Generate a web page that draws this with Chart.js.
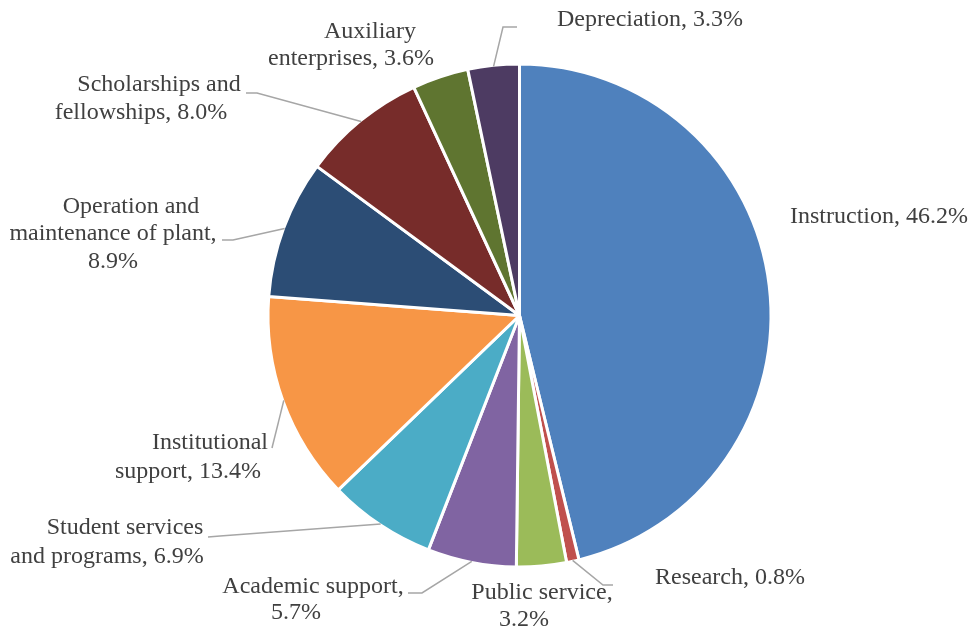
<!DOCTYPE html>
<html>
<head>
<meta charset="utf-8">
<script src="https://cdn.jsdelivr.net/npm/chart.js@4"></script>
<style>
  html, body { margin: 0; padding: 0; background: #fff; }
  #wrap { width: 970px; height: 630px; }
</style>
</head>
<body>
<div id="wrap"><canvas id="pie" width="970" height="630"></canvas></div>
<script>
const categories = ['Instruction', 'Research', 'Public service', 'Academic support',
  'Student services and programs', 'Institutional support',
  'Operation and maintenance of plant', 'Scholarships and fellowships',
  'Auxiliary enterprises', 'Depreciation'];
const shares = [46.2, 0.8, 3.2, 5.7, 6.9, 13.4, 8.9, 8.0, 3.6, 3.3];
const sliceColors = ['#4F81BD', '#C0504D', '#9BBB59', '#8064A2', '#4BACC6',
  '#F79646', '#2C4D75', '#772C2A', '#5F7530', '#4D3B62'];

// where each label sits: word index where a new line starts, line positions, leader elbow/end
const labelLayout = [
  { breaks: [], pos: [[790, 217, 'left']], leader: null },
  { breaks: [], pos: [[655, 578, 'left']], leader: [[603, 585], [613, 585]] },
  { breaks: [2], pos: [[542, 593], [524, 620]], leader: null },
  { breaks: [2], pos: [[313, 587], [296, 613]], leader: [[422, 593], [408, 593]] },
  { breaks: [2], pos: [[125, 528], [107, 557]], leader: [[220, 536], [208, 537]] },
  { breaks: [1], pos: [[210, 443], [188, 472]], leader: [[272, 448], [272, 448]] },
  { breaks: [2, 5], pos: [[131, 207], [113, 234], [113, 262]], leader: [[233, 240], [222, 240]] },
  { breaks: [2], pos: [[159, 85], [141, 113]], leader: [[257, 93], [246, 93]] },
  { breaks: [1], pos: [[370, 32], [351, 59]], leader: null },
  { breaks: [], pos: [[557, 20, 'left']], leader: [[503, 27], [517, 27]] }
];

function splitLabel(text, breaks) {
  const words = text.split(' ');
  const lines = [];
  let start = 0;
  breaks.concat([words.length]).forEach(b => {
    lines.push(words.slice(start, b).join(' '));
    start = b;
  });
  return lines;
}

const pieLabels = {
  id: 'pieLabels',
  afterDatasetsDraw(chart) {
    const ctx = chart.ctx;
    const meta = chart.getDatasetMeta(0);
    ctx.save();
    meta.data.forEach((arc, i) => {
      const lay = labelLayout[i];
      const p = arc.getProps(['x', 'y', 'startAngle', 'endAngle', 'outerRadius'], true);
      if (lay.leader) {
        const mid = (p.startAngle + p.endAngle) / 2;
        const r = p.outerRadius - 1;
        ctx.beginPath();
        ctx.moveTo(p.x + Math.cos(mid) * r, p.y + Math.sin(mid) * r);
        lay.leader.forEach(pt => ctx.lineTo(pt[0], pt[1]));
        ctx.strokeStyle = '#A6A6A6';
        ctx.lineWidth = 1.5;
        ctx.stroke();
      }
      const text = categories[i] + ', ' + shares[i].toFixed(1) + '%';
      const lines = splitLabel(text, lay.breaks);
      ctx.fillStyle = '#404040';
      ctx.font = '24px "Liberation Serif", "Times New Roman", serif';
      ctx.textBaseline = 'middle';
      lines.forEach((ln, k) => {
        const pos = lay.pos[k];
        ctx.textAlign = pos[2] || 'center';
        ctx.fillText(ln, pos[0], pos[1]);
      });
    });
    ctx.restore();
  }
};

const cx = 519.5, cy = 315.5, side = 506;
new Chart(document.getElementById('pie'), {
  type: 'pie',
  data: {
    labels: categories,
    datasets: [{
      data: shares,
      backgroundColor: sliceColors,
      borderColor: '#ffffff',
      borderWidth: 3
    }]
  },
  options: {
    responsive: false,
    animation: false,
    devicePixelRatio: 1,
    layout: {
      padding: {
        left: cx - side / 2,
        right: 970 - cx - side / 2,
        top: cy - side / 2,
        bottom: 630 - cy - side / 2
      }
    },
    plugins: {
      legend: { display: false },
      tooltip: { enabled: false }
    }
  },
  plugins: [pieLabels]
});
</script>
</body>
</html>
